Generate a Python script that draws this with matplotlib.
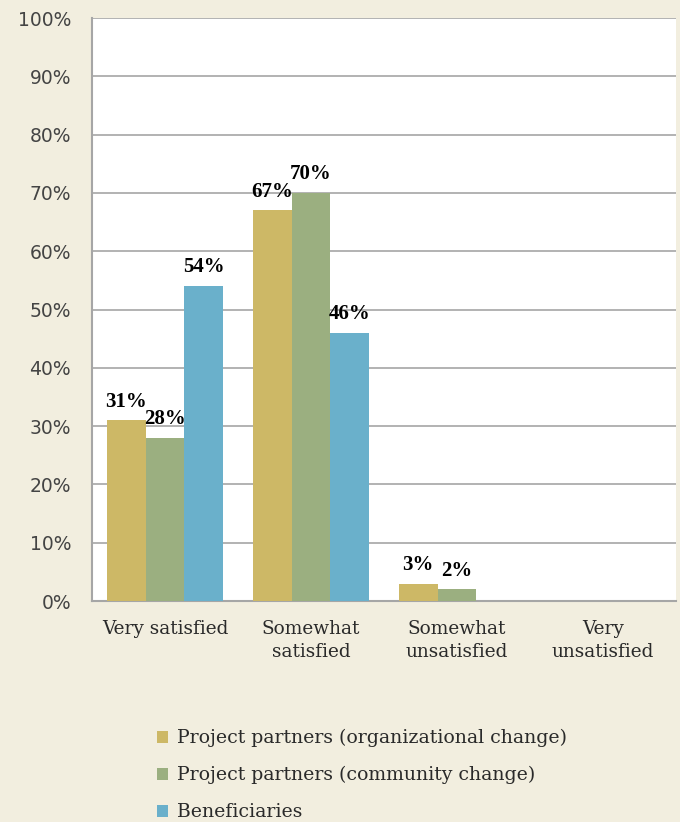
import numpy as np
import matplotlib
matplotlib.use("Agg")
import matplotlib.pyplot as plt
from matplotlib.patches import Patch

categories = ["Very satisfied", "Somewhat\nsatisfied", "Somewhat\nunsatisfied", "Very\nunsatisfied"]
series_names = [
    "Project partners (organizational change)",
    "Project partners (community change)",
    "Beneficiaries",
]
org_change = [31, 67, 3, 0]
community_change = [28, 70, 2, 0]
beneficiaries = [54, 46, 0, 0]
colors = ["#CDB866", "#9BAF80", "#6AB0CB"]

BG = "#F2EEDF"
serif = ["DejaVu Serif"]
bold_serif = ["Liberation Serif", "DejaVu Serif"]


def main():
    fig = plt.figure(figsize=(6.8, 8.22), dpi=100, facecolor=BG)
    ax = fig.add_axes([92 / 680, 1 - 601 / 822, 584 / 680, 583 / 822])
    ax.set_facecolor("white")

    x = np.arange(len(categories))
    w = 0.267
    data = [org_change, community_change, beneficiaries]
    for i, (vals, c) in enumerate(zip(data, colors)):
        pos = x + (i - 1) * w
        bars = ax.bar(pos, vals, width=w, color=c, zorder=3)
        for b, v in zip(bars, vals):
            if v > 0:
                ax.text(b.get_x() + b.get_width() / 2, v + 1.5, f"{v}%",
                        ha="center", va="bottom", fontsize=15, fontweight="bold",
                        family=bold_serif, zorder=4)

    ax.set_xlim(-0.5, len(categories) - 0.5)
    ax.set_ylim(0, 100)
    ax.set_yticks(range(0, 101, 10))
    ax.set_yticklabels([f"{t}%" for t in range(0, 101, 10)], family="DejaVu Sans",
                       fontsize=13.5, color="#444444")
    ax.set_xticks(x)
    ax.set_xticklabels(categories, family=serif, fontsize=13.3, color="#2a2a2a",
                       linespacing=1.35, va="top")
    ax.tick_params(axis="both", length=0)
    ax.tick_params(axis="y", pad=15)
    ax.tick_params(axis="x", pad=14)
    ax.yaxis.grid(True, color="#A6A6A6", linewidth=1.2, zorder=0)
    for s in ["top", "right"]:
        ax.spines[s].set_visible(False)
    for s in ["left", "bottom"]:
        ax.spines[s].set_color("#A6A6A6")
        ax.spines[s].set_linewidth(1.5)

    handles = [Patch(facecolor=c, edgecolor="none") for c in colors]
    fig.legend(handles, series_names, loc="upper left", bbox_to_anchor=(140 / 680, 1 - 712 / 822),
               frameon=False, prop={"family": serif, "size": 13.6}, handlelength=0.6, handleheight=0.6,
               handletextpad=0.45, labelspacing=1.0, labelcolor="#2a2a2a")

    fig.savefig("out.png", dpi=100, facecolor=BG)


if __name__ == "__main__":
    main()
